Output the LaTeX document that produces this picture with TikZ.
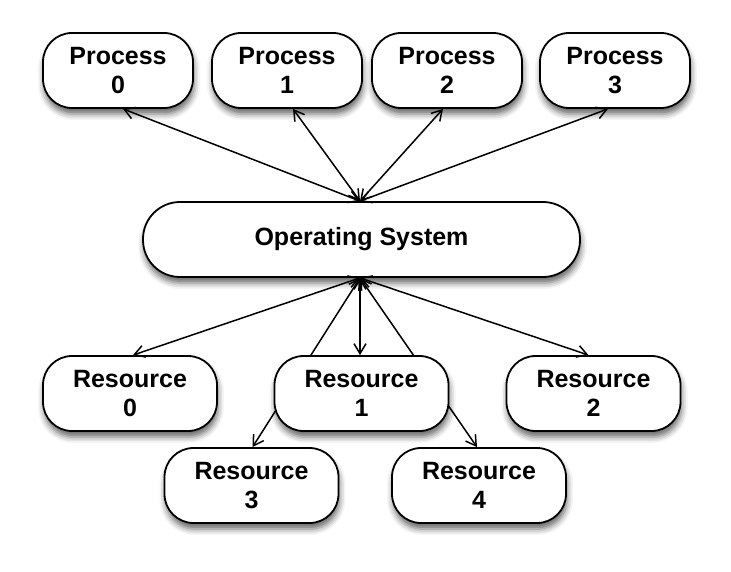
\documentclass[tikz,border=0pt]{standalone}
\usepackage{fontspec}
\setmainfont{Liberation Sans}
\usetikzlibrary{arrows.meta,shadows.blur,backgrounds}
\begin{document}
\begin{tikzpicture}[x=1pt,y=-1pt,
  box/.style={draw=black, line width=1.8pt, fill=white, rounded corners=29pt,
    minimum height=75pt, inner sep=0pt, align=center,
    font=\fontsize{25}{29.5}\selectfont\bfseries,
    blur shadow={shadow xshift=1pt, shadow yshift=-6pt, shadow blur radius=6pt, shadow opacity=60}},
  proc/.style={box, minimum width=150pt},
  res/.style={box, minimum width=174pt},
  link/.style={line width=1.5pt, {Straight Barb[length=10pt,width=12pt]}-{Straight Barb[length=10pt,width=12pt]}}
]
\useasboundingbox (0,0) rectangle (731,572);
\node[proc] (p0) at (118,70.5) {Process\\0};
\node[proc] (p1) at (287,70.5) {Process\\1};
\node[proc] (p2) at (447,70.5) {Process\\2};
\node[proc] (p3) at (615,70.5) {Process\\3};
\node[box, minimum width=437pt, rounded corners=37pt] (os) at (361.5,239.5) {Operating System};
\node[res] (r0) at (130,393.5) {Resource\\0};
\node[res] (r1) at (361.5,393.5) {Resource\\1};
\node[res] (r2) at (593.5,393.5) {Resource\\2};
\node[res] (r3) at (251.5,485.5) {Resource\\3};
\node[res] (r4) at (479,485.5) {Resource\\4};

\draw[link] ([xshift=5pt]p0.south) -- ([xshift=-1.5pt]os.north);
\draw[link] ([xshift=6pt]p1.south) -- ([xshift=-1.5pt]os.north);
\draw[link] ([xshift=-4pt]p2.south) -- ([xshift=-1.5pt]os.north);
\draw[link] ([xshift=-7pt]p3.south) -- ([xshift=-1.5pt]os.north);

\draw[link] ([xshift=3pt]r0.north) -- ([xshift=-1.5pt]os.south);
\draw[link] ([xshift=-1.5pt]r1.north) -- ([xshift=-1.5pt]os.south);
\draw[link] ([xshift=-5pt]r2.north) -- ([xshift=-1.5pt]os.south);
\begin{scope}[on background layer]
\draw[link] ([xshift=1pt]r3.north) -- ([xshift=-1.5pt]os.south);
\draw[link] ([xshift=-2pt]r4.north) -- ([xshift=-1.5pt]os.south);
\end{scope}
\end{tikzpicture}
\end{document}
